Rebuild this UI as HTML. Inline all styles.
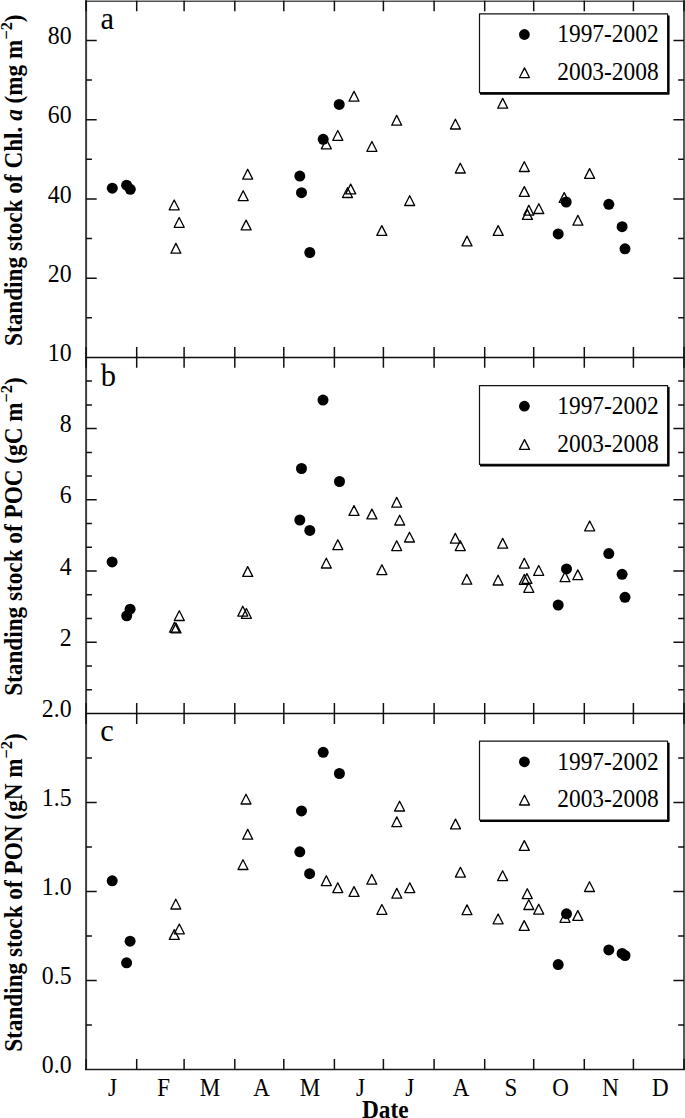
<!DOCTYPE html><html><head><meta charset="utf-8"><style>html,body{margin:0;padding:0;background:#fff;width:685px;height:1118px;overflow:hidden}svg{display:block}</style></head><body><svg width="685" height="1118" viewBox="0 0 685 1118">
<rect width="685" height="1118" fill="#fff"/>
<path d="M86.1 0V1069.5" stroke="#404040" stroke-width="2" fill="none"/>
<path d="M684.0 0V1069.5" stroke="#5a5a5a" stroke-width="2" fill="none"/>
<path d="M85.1 1.2H685.0" stroke="#505050" stroke-width="1.6" fill="none"/>
<path d="M85.1 357.5H685.0M85.1 713.5H685.0" stroke="#0d0d0d" stroke-width="1.7" fill="none"/>
<path d="M85.1 1069.5H685.0" stroke="#1a1a1a" stroke-width="1.7" fill="none"/>
<path d="M86.1 317.8h5.8M684.0 317.8h-5.8M86.1 278.2h10.6M684.0 278.2h-10.6M86.1 238.5h5.8M684.0 238.5h-5.8M86.1 198.9h10.6M684.0 198.9h-10.6M86.1 159.3h5.8M684.0 159.3h-5.8M86.1 119.7h10.6M684.0 119.7h-10.6M86.1 80.0h5.8M684.0 80.0h-5.8M86.1 40.4h10.6M684.0 40.4h-10.6M86.1 0.8v10.4M86.1 357.4v-10.4M136.7 0.8v10.4M136.7 357.4v-10.4M184.1 0.8v10.4M184.1 357.4v-10.4M234.8 0.8v10.4M234.8 357.4v-10.4M283.8 0.8v10.4M283.8 357.4v-10.4M334.4 0.8v10.4M334.4 357.4v-10.4M383.4 0.8v10.4M383.4 357.4v-10.4M434.1 0.8v10.4M434.1 357.4v-10.4M484.7 0.8v10.4M484.7 357.4v-10.4M533.7 0.8v10.4M533.7 357.4v-10.4M584.3 0.8v10.4M584.3 357.4v-10.4M633.4 0.8v10.4M633.4 357.4v-10.4M684.0 0.8v10.4M684.0 357.4v-10.4M86.1 689.8h5.8M684.0 689.8h-5.8M86.1 666.0h5.8M684.0 666.0h-5.8M86.1 642.3h10.6M684.0 642.3h-10.6M86.1 618.5h5.8M684.0 618.5h-5.8M86.1 594.8h5.8M684.0 594.8h-5.8M86.1 571.1h10.6M684.0 571.1h-10.6M86.1 547.3h5.8M684.0 547.3h-5.8M86.1 523.6h5.8M684.0 523.6h-5.8M86.1 499.8h10.6M684.0 499.8h-10.6M86.1 476.1h5.8M684.0 476.1h-5.8M86.1 452.4h5.8M684.0 452.4h-5.8M86.1 428.6h10.6M684.0 428.6h-10.6M86.1 404.9h5.8M684.0 404.9h-5.8M86.1 381.1h5.8M684.0 381.1h-5.8M86.1 357.4v10.4M86.1 713.5v-10.4M136.7 357.4v10.4M136.7 713.5v-10.4M184.1 357.4v10.4M184.1 713.5v-10.4M234.8 357.4v10.4M234.8 713.5v-10.4M283.8 357.4v10.4M283.8 713.5v-10.4M334.4 357.4v10.4M334.4 713.5v-10.4M383.4 357.4v10.4M383.4 713.5v-10.4M434.1 357.4v10.4M434.1 713.5v-10.4M484.7 357.4v10.4M484.7 713.5v-10.4M533.7 357.4v10.4M533.7 713.5v-10.4M584.3 357.4v10.4M584.3 713.5v-10.4M633.4 357.4v10.4M633.4 713.5v-10.4M684.0 357.4v10.4M684.0 713.5v-10.4M86.1 1025.0h5.8M684.0 1025.0h-5.8M86.1 980.5h10.6M684.0 980.5h-10.6M86.1 936.0h5.8M684.0 936.0h-5.8M86.1 891.5h10.6M684.0 891.5h-10.6M86.1 847.0h5.8M684.0 847.0h-5.8M86.1 802.5h10.6M684.0 802.5h-10.6M86.1 758.0h5.8M684.0 758.0h-5.8M86.1 713.5v10.4M86.1 1069.5v-10.4M136.7 713.5v10.4M136.7 1069.5v-10.4M184.1 713.5v10.4M184.1 1069.5v-10.4M234.8 713.5v10.4M234.8 1069.5v-10.4M283.8 713.5v10.4M283.8 1069.5v-10.4M334.4 713.5v10.4M334.4 1069.5v-10.4M383.4 713.5v10.4M383.4 1069.5v-10.4M434.1 713.5v10.4M434.1 1069.5v-10.4M484.7 713.5v10.4M484.7 1069.5v-10.4M533.7 713.5v10.4M533.7 1069.5v-10.4M584.3 713.5v10.4M584.3 1069.5v-10.4M633.4 713.5v10.4M633.4 1069.5v-10.4M684.0 713.5v10.4M684.0 1069.5v-10.4" stroke="#111" stroke-width="1.5" fill="none"/>
<g font-family="&quot;Liberation Serif&quot;, serif" font-size="23.8" fill="#000"><text transform="translate(71.6 281.76) scale(1 1.06)" text-anchor="end">20</text><text transform="translate(71.6 202.51) scale(1 1.06)" text-anchor="end">40</text><text transform="translate(71.6 123.27) scale(1 1.06)" text-anchor="end">60</text><text transform="translate(71.6 44.02) scale(1 1.06)" text-anchor="end">80</text><text transform="translate(71.6 645.88) scale(1 1.06)" text-anchor="end">2</text><text transform="translate(71.6 574.66) scale(1 1.06)" text-anchor="end">4</text><text transform="translate(71.6 503.44) scale(1 1.06)" text-anchor="end">6</text><text transform="translate(71.6 432.22) scale(1 1.06)" text-anchor="end">8</text><text transform="translate(71.6 361.00) scale(1 1.06)" text-anchor="end">10</text><text transform="translate(71.6 1073.10) scale(1 1.06)" text-anchor="end">0.0</text><text transform="translate(71.6 984.10) scale(1 1.06)" text-anchor="end">0.5</text><text transform="translate(71.6 895.10) scale(1 1.06)" text-anchor="end">1.0</text><text transform="translate(71.6 806.10) scale(1 1.06)" text-anchor="end">1.5</text><text transform="translate(71.6 717.10) scale(1 1.06)" text-anchor="end">2.0</text></g>
<g font-family="&quot;Liberation Serif&quot;, serif" font-size="30.5" fill="#000"><text x="100.4" y="28.7">a</text><text x="100.8" y="385.5">b</text><text x="100.3" y="740.7">c</text></g>
<g fill="none" stroke="#000" stroke-width="1.3" stroke-linejoin="round"><path d="M174.2 200.0L169.2 209.8H179.2Z"/><path d="M179.2 217.5L174.2 227.3H184.2Z"/><path d="M175.9 243.4L170.9 253.2H180.9Z"/><path d="M247.7 169.3L242.7 179.1H252.7Z"/><path d="M243.2 190.8L238.2 200.6H248.2Z"/><path d="M246.1 220.1L241.1 229.9H251.1Z"/><path d="M326.3 139.1L321.3 148.9H331.3Z"/><path d="M337.8 130.5L332.8 140.3H342.8Z"/><path d="M354.0 91.4L349.0 101.2H359.0Z"/><path d="M350.7 184.1L345.7 193.9H355.7Z"/><path d="M347.5 187.7L342.5 197.5H352.5Z"/><path d="M371.9 141.5L366.9 151.3H376.9Z"/><path d="M381.8 225.6L376.8 235.4H386.8Z"/><path d="M396.7 115.4L391.7 125.2H401.7Z"/><path d="M409.7 195.7L404.7 205.5H414.7Z"/><path d="M455.4 119.2L450.4 129.0H460.4Z"/><path d="M460.3 163.2L455.3 173.0H465.3Z"/><path d="M467.0 236.1L462.0 245.9H472.0Z"/><path d="M498.2 225.6L493.2 235.4H503.2Z"/><path d="M502.7 98.4L497.7 108.2H507.7Z"/><path d="M524.3 161.7L519.3 171.5H529.3Z"/><path d="M524.3 186.6L519.3 196.4H529.3Z"/><path d="M528.8 205.3L523.8 215.1H533.8Z"/><path d="M527.4 209.6L522.4 219.4H532.4Z"/><path d="M538.8 203.7L533.8 213.5H543.8Z"/><path d="M564.2 192.6L559.2 202.4H569.2Z"/><path d="M577.9 215.4L572.9 225.2H582.9Z"/><path d="M589.6 168.6L584.6 178.4H594.6Z"/><path d="M179.3 610.7L174.3 620.5H184.3Z"/><path d="M174.5 622.4L169.5 632.2H179.5Z"/><path d="M176.0 623.1L171.0 632.9H181.0Z"/><path d="M247.7 566.6L242.7 576.4H252.7Z"/><path d="M242.8 606.3L237.8 616.1H247.8Z"/><path d="M246.4 608.5L241.4 618.3H251.4Z"/><path d="M354.0 505.6L349.0 515.4H359.0Z"/><path d="M371.9 509.1L366.9 518.9H376.9Z"/><path d="M337.8 539.8L332.8 549.6H342.8Z"/><path d="M326.3 558.2L321.3 568.0H331.3Z"/><path d="M381.9 564.8L376.9 574.6H386.9Z"/><path d="M396.7 497.4L391.7 507.2H401.7Z"/><path d="M399.7 515.2L394.7 525.0H404.7Z"/><path d="M409.5 532.2L404.5 542.0H414.5Z"/><path d="M396.7 540.8L391.7 550.6H401.7Z"/><path d="M455.3 533.4L450.3 543.2H460.3Z"/><path d="M460.3 540.8L455.3 550.6H465.3Z"/><path d="M466.8 574.4L461.8 584.2H471.8Z"/><path d="M498.1 575.2L493.1 585.0H503.1Z"/><path d="M502.7 538.4L497.7 548.2H507.7Z"/><path d="M524.3 558.3L519.3 568.1H529.3Z"/><path d="M538.7 565.5L533.7 575.3H543.7Z"/><path d="M524.3 574.5L519.3 584.3H529.3Z"/><path d="M526.9 573.6L521.9 583.4H531.9Z"/><path d="M528.8 582.5L523.8 592.3H533.8Z"/><path d="M565.0 571.9L560.0 581.7H570.0Z"/><path d="M577.8 569.9L572.8 579.7H582.8Z"/><path d="M589.7 521.0L584.7 530.8H594.7Z"/><path d="M175.8 899.2L170.8 909.0H180.8Z"/><path d="M179.3 924.0L174.3 933.8H184.3Z"/><path d="M174.3 929.6L169.3 939.4H179.3Z"/><path d="M246.0 794.2L241.0 804.0H251.0Z"/><path d="M247.7 829.4L242.7 839.2H252.7Z"/><path d="M243.0 859.7L238.0 869.5H248.0Z"/><path d="M399.6 801.2L394.6 811.0H404.6Z"/><path d="M396.8 816.9L391.8 826.7H401.8Z"/><path d="M326.3 875.8L321.3 885.6H331.3Z"/><path d="M337.8 882.8L332.8 892.6H342.8Z"/><path d="M354.0 886.6L349.0 896.4H359.0Z"/><path d="M371.8 874.4L366.8 884.2H376.8Z"/><path d="M381.9 904.5L376.9 914.3H386.9Z"/><path d="M396.8 888.4L391.8 898.2H401.8Z"/><path d="M409.8 882.8L404.8 892.6H414.8Z"/><path d="M455.5 819.1L450.5 828.9H460.5Z"/><path d="M524.3 840.6L519.3 850.4H529.3Z"/><path d="M460.4 867.3L455.4 877.1H465.4Z"/><path d="M502.6 870.8L497.6 880.6H507.6Z"/><path d="M527.3 888.8L522.3 898.6H532.3Z"/><path d="M528.8 899.7L523.8 909.5H533.8Z"/><path d="M538.7 904.3L533.7 914.1H543.7Z"/><path d="M467.0 904.9L462.0 914.7H472.0Z"/><path d="M498.1 914.0L493.1 923.8H503.1Z"/><path d="M565.0 912.5L560.0 922.3H570.0Z"/><path d="M577.8 910.6L572.8 920.4H582.8Z"/><path d="M524.2 920.6L519.2 930.4H529.2Z"/><path d="M589.5 881.7L584.5 891.5H594.5Z"/></g>
<g fill="#000"><circle cx="112.3" cy="188.2" r="5.5"/><circle cx="126.6" cy="185.2" r="5.5"/><circle cx="130.3" cy="189.3" r="5.5"/><circle cx="299.8" cy="176.1" r="5.5"/><circle cx="301.5" cy="192.7" r="5.5"/><circle cx="309.8" cy="252.5" r="5.5"/><circle cx="323.2" cy="139.3" r="5.5"/><circle cx="339.2" cy="104.4" r="5.5"/><circle cx="558.2" cy="233.9" r="5.5"/><circle cx="566.2" cy="202" r="5.5"/><circle cx="608.8" cy="204.3" r="5.5"/><circle cx="622.1" cy="226.7" r="5.5"/><circle cx="625" cy="248.8" r="5.5"/><circle cx="112.1" cy="561.9" r="5.5"/><circle cx="130.1" cy="609.2" r="5.5"/><circle cx="126.7" cy="615.8" r="5.5"/><circle cx="323" cy="400.1" r="5.5"/><circle cx="301.5" cy="468.5" r="5.5"/><circle cx="339.5" cy="481.5" r="5.5"/><circle cx="299.8" cy="520" r="5.5"/><circle cx="309.8" cy="530.4" r="5.5"/><circle cx="566.5" cy="568.9" r="5.5"/><circle cx="558.2" cy="605.1" r="5.5"/><circle cx="608.8" cy="553.6" r="5.5"/><circle cx="622.1" cy="574.3" r="5.5"/><circle cx="625" cy="597.3" r="5.5"/><circle cx="112.2" cy="880.8" r="5.5"/><circle cx="130.1" cy="941.2" r="5.5"/><circle cx="126.6" cy="962.8" r="5.5"/><circle cx="301.5" cy="810.9" r="5.5"/><circle cx="299.8" cy="851.8" r="5.5"/><circle cx="309.6" cy="873.7" r="5.5"/><circle cx="323.2" cy="752.3" r="5.5"/><circle cx="339.4" cy="773.5" r="5.5"/><circle cx="566.5" cy="913.8" r="5.5"/><circle cx="558.2" cy="964.6" r="5.5"/><circle cx="608.8" cy="949.9" r="5.5"/><circle cx="622.1" cy="953.4" r="5.5"/><circle cx="625" cy="955.5" r="5.5"/></g>
<g fill="none" stroke="#000" stroke-width="1.3" stroke-linejoin="round"></g>
<g stroke-linejoin="round"><path d="M668.6 15.4V93.7H480.0" stroke="#000" stroke-width="2" fill="none"/><rect x="479.5" y="13.9" width="188.10000000000002" height="78.8" fill="none" stroke="#111" stroke-width="1.2"/><circle cx="524.4" cy="34.5" r="5.4" fill="#000"/><path fill="none" stroke="#000" stroke-width="1.3" d="M524.5 67.9L519.5 77.7H529.5Z"/><text transform="translate(658.6 42.2) scale(1 1.07)" text-anchor="end" font-family="&quot;Liberation Serif&quot;, serif" font-size="23.4">1997-2002</text><text transform="translate(658.6 80.0) scale(1 1.07)" text-anchor="end" font-family="&quot;Liberation Serif&quot;, serif" font-size="23.4">2003-2008</text></g>
<g stroke-linejoin="round"><path d="M668.6 387.1V465.4H480.0" stroke="#000" stroke-width="2" fill="none"/><rect x="479.5" y="385.6" width="188.10000000000002" height="78.80000000000001" fill="none" stroke="#111" stroke-width="1.2"/><circle cx="524.4" cy="406.2" r="5.4" fill="#000"/><path fill="none" stroke="#000" stroke-width="1.3" d="M524.5 439.6L519.5 449.4H529.5Z"/><text transform="translate(658.6 413.9) scale(1 1.07)" text-anchor="end" font-family="&quot;Liberation Serif&quot;, serif" font-size="23.4">1997-2002</text><text transform="translate(658.6 451.7) scale(1 1.07)" text-anchor="end" font-family="&quot;Liberation Serif&quot;, serif" font-size="23.4">2003-2008</text></g>
<g stroke-linejoin="round"><path d="M668.6 742.7V821.0H480.0" stroke="#000" stroke-width="2" fill="none"/><rect x="479.5" y="741.2" width="188.10000000000002" height="78.79999999999995" fill="none" stroke="#111" stroke-width="1.2"/><circle cx="524.4" cy="761.8" r="5.4" fill="#000"/><path fill="none" stroke="#000" stroke-width="1.3" d="M524.5 795.2L519.5 805.0H529.5Z"/><text transform="translate(658.6 769.5) scale(1 1.07)" text-anchor="end" font-family="&quot;Liberation Serif&quot;, serif" font-size="23.4">1997-2002</text><text transform="translate(658.6 807.3) scale(1 1.07)" text-anchor="end" font-family="&quot;Liberation Serif&quot;, serif" font-size="23.4">2003-2008</text></g>
<g font-family="&quot;Liberation Serif&quot;, serif" font-size="23" fill="#000"><text transform="translate(107.9 1095.6) scale(1 1.05)">J</text><text transform="translate(157.3 1095.6) scale(1 1.05)">F</text><text transform="translate(199.8 1095.6) scale(1 1.05)">M</text><text transform="translate(253.2 1095.6) scale(1 1.05)">A</text><text transform="translate(299.8 1095.6) scale(1 1.05)">M</text><text transform="translate(356.1 1095.6) scale(1 1.05)">J</text><text transform="translate(405.2 1095.6) scale(1 1.05)">J</text><text transform="translate(452.7 1095.6) scale(1 1.05)">A</text><text transform="translate(504.5 1095.6) scale(1 1.05)">S</text><text transform="translate(552.2 1095.6) scale(1 1.05)">O</text><text transform="translate(602.2 1095.6) scale(1 1.05)">N</text><text transform="translate(651.9 1095.6) scale(1 1.05)">D</text></g>
<text transform="translate(385.2 1117.6) scale(1 1.04)" font-family="&quot;Liberation Serif&quot;, serif" font-weight="bold" font-size="23.3" text-anchor="middle">Date</text>
<text transform="translate(21.6 345.96) rotate(-90) scale(0.929 0.98)" font-family="&quot;Liberation Serif&quot;, serif" font-weight="bold" font-size="25" fill="#000">Standing stock of Chl. <tspan font-style="italic">a</tspan> (mg m<tspan baseline-shift="super" font-size="70%">&#8722;2</tspan>)</text>
<text transform="translate(21.6 695.86) rotate(-90) scale(0.929 0.98)" font-family="&quot;Liberation Serif&quot;, serif" font-weight="bold" font-size="25" fill="#000">Standing stock of POC (gC m<tspan baseline-shift="super" font-size="70%">&#8722;2</tspan>)</text>
<text transform="translate(21.6 1051.86) rotate(-90) scale(0.929 0.98)" font-family="&quot;Liberation Serif&quot;, serif" font-weight="bold" font-size="25" fill="#000">Standing stock of PON (gN m<tspan baseline-shift="super" font-size="70%">&#8722;2</tspan>)</text>
</svg></body></html>
